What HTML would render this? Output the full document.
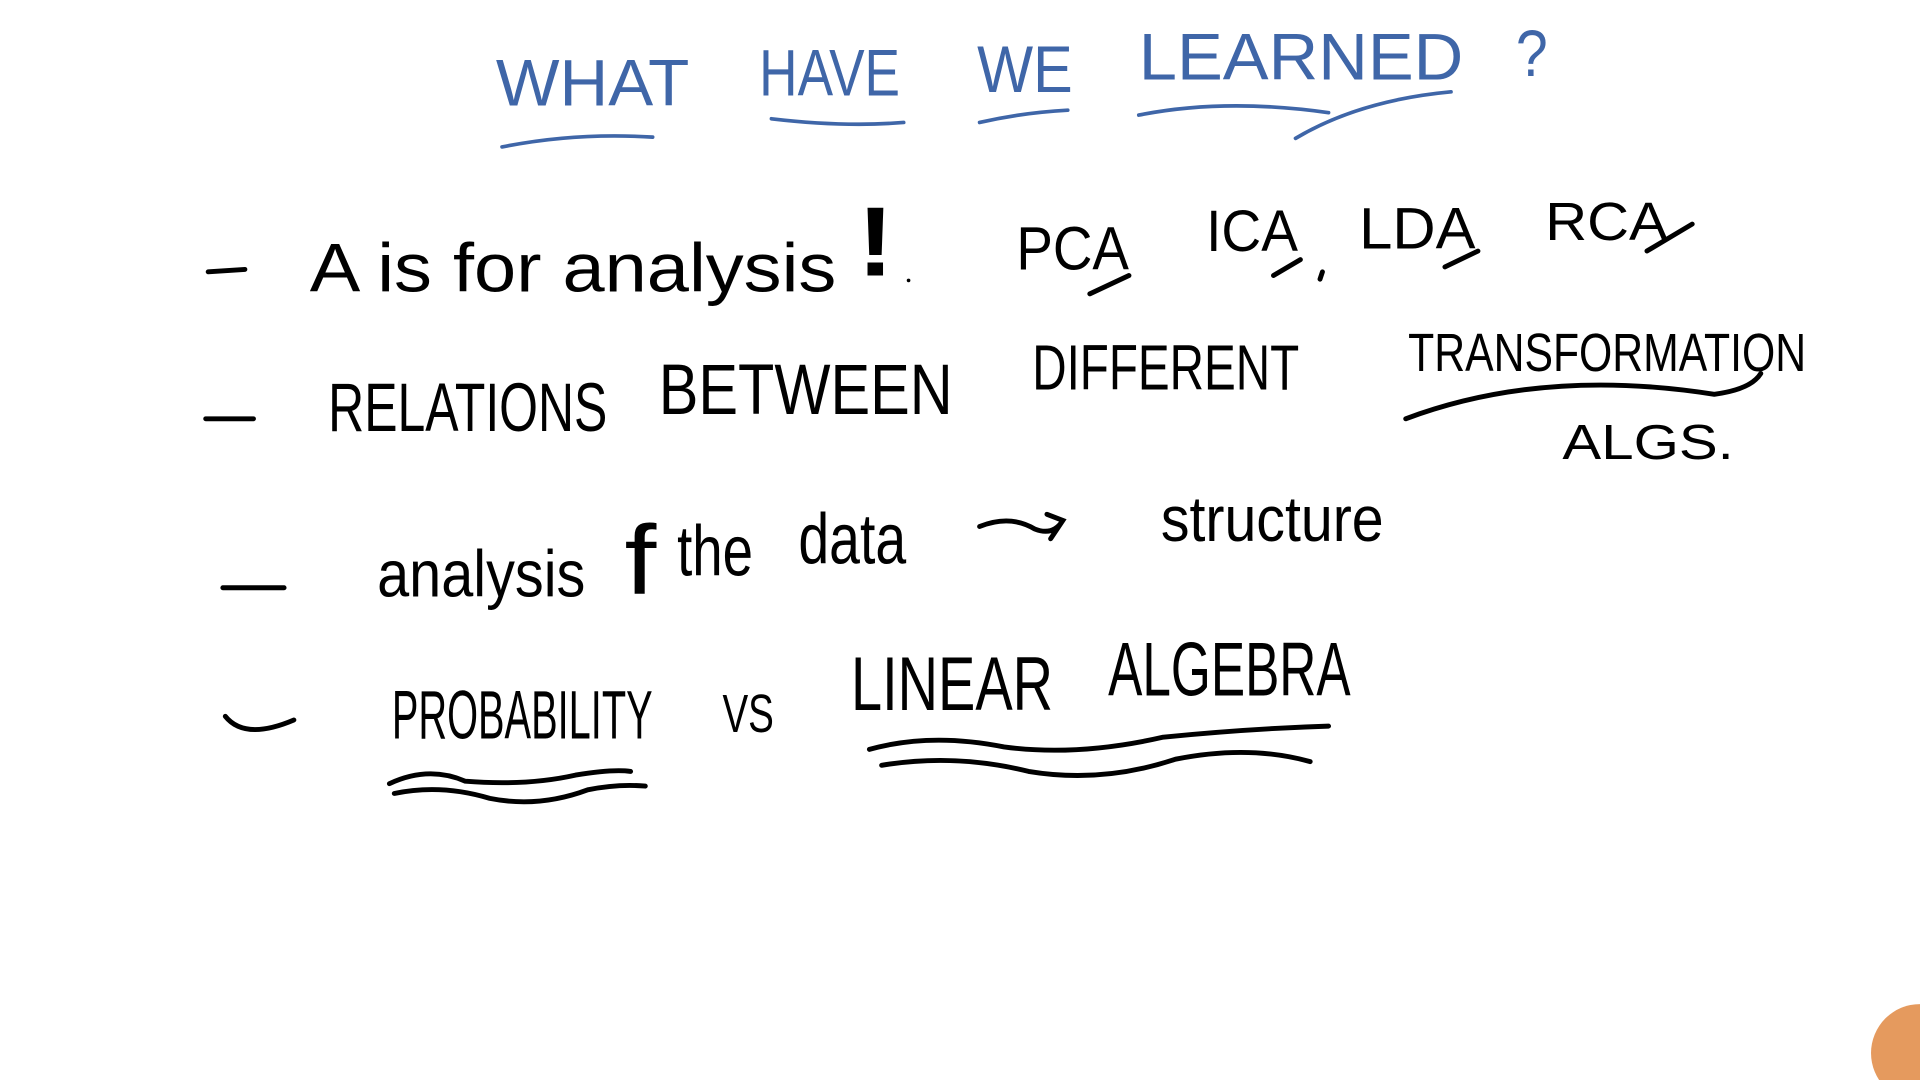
<!DOCTYPE html>
<html><head><meta charset="utf-8"><style>
html,body{margin:0;padding:0;background:#fff;width:1920px;height:1080px;overflow:hidden}
svg{display:block}
text{font-family:"Liberation Sans",sans-serif;}
</style></head><body>
<svg width="1920" height="1080" viewBox="0 0 1568 882" preserveAspectRatio="none">
<rect width="1568" height="882" fill="#fff"/>
<g fill="#3f66a8" font-size="54" font-weight="400">
<text x="405" y="86" textLength="158" lengthAdjust="spacingAndGlyphs">WHAT</text>
<text x="620" y="78" textLength="115" lengthAdjust="spacingAndGlyphs">HAVE</text>
<text x="798" y="75" textLength="78" lengthAdjust="spacingAndGlyphs">WE</text>
<text x="930" y="65" textLength="265" lengthAdjust="spacingAndGlyphs">LEARNED</text>
<text x="1238" y="62" textLength="26" lengthAdjust="spacingAndGlyphs">?</text>
</g>
<g fill="none" stroke="#3f66a8" stroke-width="3" stroke-linecap="round">
<path d="M410 120 Q470 108 533 112"/>
<path d="M630 97 Q690 104 738 100"/>
<path d="M800 100 Q835 92 872 90"/>
<path d="M930 94 Q1000 80 1085 92 M1058 113 Q1110 82 1185 75"/>
</g>
<g fill="#000" font-size="56">
<text x="253" y="238" textLength="430" lengthAdjust="spacingAndGlyphs">A is for analysis</text>
<text x="700" y="225" font-size="80" font-weight="700" textLength="30" lengthAdjust="spacingAndGlyphs">!</text>
<text x="830" y="220" font-size="50" textLength="92" lengthAdjust="spacingAndGlyphs">PCA</text>
<text x="985" y="205" font-size="48" textLength="75" lengthAdjust="spacingAndGlyphs">ICA</text>
<text x="1110" y="203" font-size="48" textLength="95" lengthAdjust="spacingAndGlyphs">LDA</text>
<text x="1262" y="196" font-size="44" textLength="100" lengthAdjust="spacingAndGlyphs">RCA</text>
<text x="268" y="352" font-size="56" textLength="228" lengthAdjust="spacingAndGlyphs">RELATIONS</text>
<text x="538" y="338" font-size="58" textLength="240" lengthAdjust="spacingAndGlyphs">BETWEEN</text>
<text x="843" y="318" font-size="52" textLength="218" lengthAdjust="spacingAndGlyphs">DIFFERENT</text>
<text x="1150" y="303" font-size="44" textLength="325" lengthAdjust="spacingAndGlyphs">TRANSFORMATION</text>
<text x="1276" y="375" font-size="40" textLength="140" lengthAdjust="spacingAndGlyphs">ALGS.</text>
<text x="308" y="487" font-size="54" textLength="170" lengthAdjust="spacingAndGlyphs">analysis</text>
<text x="510" y="485" font-size="80" textLength="26" lengthAdjust="spacingAndGlyphs">f</text>
<text x="553" y="470" font-size="58" textLength="62" lengthAdjust="spacingAndGlyphs">the</text>
<text x="652" y="460" font-size="58" textLength="88" lengthAdjust="spacingAndGlyphs">data</text>
<text x="948" y="442" font-size="52" textLength="182" lengthAdjust="spacingAndGlyphs">structure</text>
<text x="320" y="603" font-size="56" textLength="213" lengthAdjust="spacingAndGlyphs">PROBABILITY</text>
<text x="590" y="598" font-size="44" textLength="42" lengthAdjust="spacingAndGlyphs">VS</text>
<text x="695" y="580" font-size="62" textLength="165" lengthAdjust="spacingAndGlyphs">LINEAR</text>
<text x="905" y="568" font-size="62" textLength="198" lengthAdjust="spacingAndGlyphs">ALGEBRA</text>
</g>
<g fill="none" stroke="#000" stroke-width="4" stroke-linecap="round">
<path d="M170 222 L200 220"/>
<path d="M168 342 L207 342"/>
<path d="M182 480 L232 480"/>
<path d="M184 585 Q200 605 240 588"/>
<path d="M890 240 L922 225 M1040 225 L1062 212 M1078 228 L1080 222 M1180 218 L1207 205 M1345 205 L1382 183"/>
<path d="M1148 342 Q1260 300 1400 322 Q1430 318 1438 305"/>
<path d="M800 430 Q825 420 845 432 Q860 438 868 425 M855 420 L868 425 L858 440"/>
<path d="M710 612 Q760 598 820 610 Q880 618 950 602 Q1020 595 1085 593"/>
<path d="M720 625 Q780 615 840 630 Q900 640 960 620 Q1020 608 1070 622"/>
<path d="M318 640 Q350 625 380 638 Q430 642 470 633 Q500 628 515 630"/>
<path d="M322 648 Q360 640 400 652 Q440 660 480 645 Q505 640 527 642"/>
</g>
<circle cx="742" cy="229" r="1.5" fill="#000"/>
<ellipse cx="1568" cy="860" rx="40" ry="40" fill="#e59a5e"/>
</svg>
</body></html>
